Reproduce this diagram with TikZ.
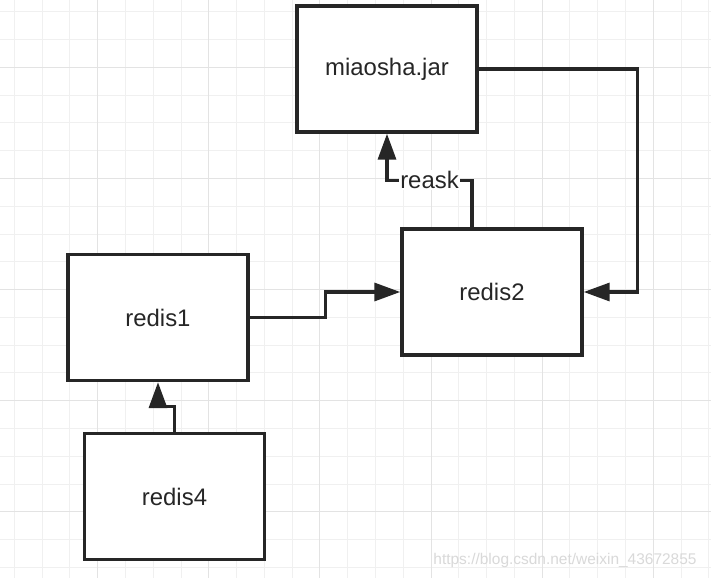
\documentclass[tikz,border=0pt]{standalone}
\usepackage{fontspec}
\setmainfont{Liberation Sans}
\usetikzlibrary{arrows.meta}

\begin{document}
\begin{tikzpicture}[x=0.025cm, y=-0.025cm,
  box/.style={draw=black!85, line width=2.4pt, fill=white, minimum width=4.5cm, minimum height=3.15cm, font=\fontsize{17}{20}\selectfont, text=black!85},
  link/.style={draw=black!85, line width=2.4pt, -{Triangle[length=0.65cm,width=0.45cm]}},
  tag/.style={fill=white, inner sep=1pt, font=\fontsize{17}{20}\selectfont, text=black!85}]
\useasboundingbox (0,0) rectangle (711,578);
\fill[white] (0,0) rectangle (711,578);
\foreach \k [evaluate=\k as \x using 14.3+27.78*\k] in {0,1,...,25} {
\draw[color=gray!12, line width=0.6pt] (\x,0) -- (\x,578);
}
\foreach \k [evaluate=\k as \y using 11.7+27.78*\k] in {0,1,...,20} {
\draw[color=gray!12, line width=0.6pt] (0,\y) -- (711,\y);
}
\foreach \k [evaluate=\k as \x using 14.3+27.78*\k] in {3,7,...,23} {
\draw[color=gray!22, line width=0.7pt] (\x,0) -- (\x,578);
}
\foreach \k [evaluate=\k as \y using 11.7+27.78*\k] in {2,6,...,18} {
\draw[color=gray!22, line width=0.7pt] (0,\y) -- (711,\y);
}
\node[box] (miaosha) at (387,69) {miaosha.jar};
\node[box] (redis2) at (492,292) {redis2};
\node[box] (redis1) at (158,317.5) {redis1};
\node[box] (redis4) at (174.5,496.5) {redis4};
\draw[link] (redis1.east) -- ++(76,0) |- (redis2.west);
\draw[link] (miaosha.east) -- ++(159,0) |- (redis2.east);
\draw[link] ([xshift=-0.5cm]redis2.north) -- ++(0,-47) -| (miaosha.south) node[tag, pos=0.25] (reask) {reask};
\draw[link] (redis4.north) -- ++(0,-25.5) -| (redis1.south);
\node[text=gray!30, font=\fontsize{11}{13}\selectfont] (mark) at (565,560) {https://blog.csdn.net/weixin\_43672855};
\end{tikzpicture}
\end{document}
